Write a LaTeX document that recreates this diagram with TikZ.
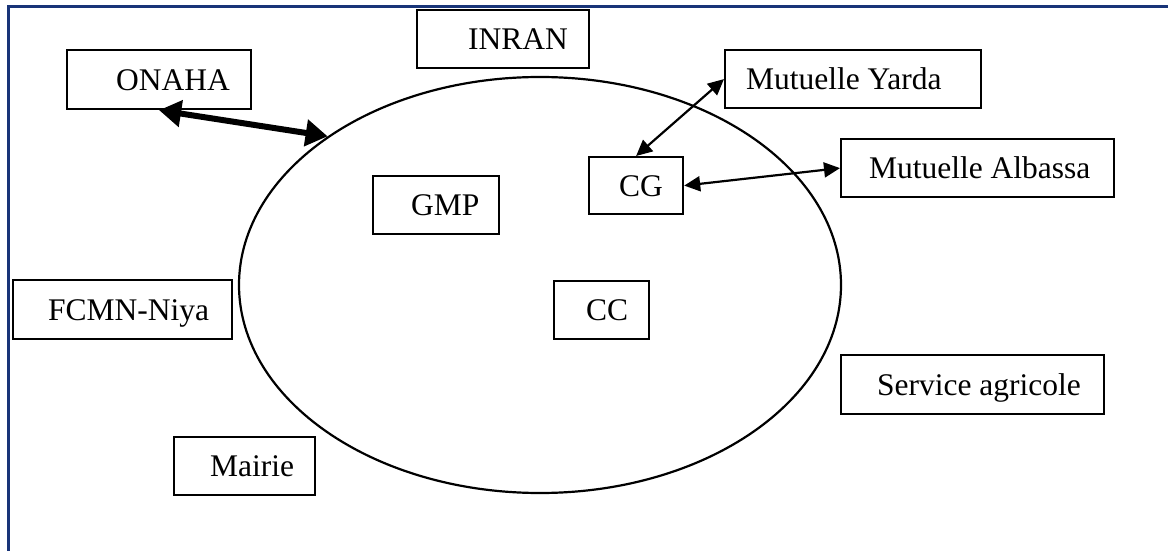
\documentclass[tikz,border=0pt]{standalone}
\usepackage{fontspec}
\setmainfont{Liberation Serif}
\usetikzlibrary{shapes.geometric,arrows.meta}
\definecolor{framecol}{RGB}{24,52,120}
\tikzset{
  box/.style={draw, line width=2.2pt, inner sep=0pt, anchor=north west,
    text height=21pt, text depth=0pt, font=\fontsize{31.5}{38}\selectfont},
  thinarrow/.style={line width=2.2pt, {Triangle[length=16pt,width=15pt]}-{Triangle[length=16pt,width=15pt]}},
  thickarrow/.style={line width=6pt, {Triangle[length=22pt,width=26pt]}-{Triangle[length=22pt,width=26pt]}},
}
\newcommand{\bxtext}[3]{\makebox[#1pt][l]{\hspace*{#2pt}#3}}
\begin{document}
\begin{tikzpicture}[x=1pt,y=-1pt]
\useasboundingbox (0,0) rectangle (1168,551);
\draw[framecol, line width=3pt] (8,560) -- (8,7) -- (1175,7);
\node[draw, ellipse, line width=2.2pt, minimum width=602pt, minimum height=416pt, inner sep=0pt] (zone) at (540,285) {};
\node[box, minimum height=59pt] (onaha) at (66,49) {\bxtext{184}{49}{ONAHA}};
\node[box, minimum height=58pt] (inran) at (416,9) {\bxtext{172}{51}{INRAN}};
\node[box, minimum height=58pt] (yarda) at (724,49) {\bxtext{256}{21}{Mutuelle Yarda}};
\node[box, minimum height=57pt] (cg) at (588,156) {\bxtext{94}{30}{CG}};
\node[box, minimum height=58pt] (albassa) at (840,138) {\bxtext{273}{28}{Mutuelle Albassa}};
\node[box, minimum height=58pt] (gmp) at (372,175) {\bxtext{126}{38}{GMP}};
\node[box, minimum height=59pt] (fcmn) at (12,279) {\bxtext{219}{35}{FCMN-Niya}};
\node[box, minimum height=58pt] (cc) at (553,280) {\bxtext{95}{32}{CC}};
\node[box, minimum height=59pt] (service) at (840,354) {\bxtext{263}{36}{Service agricole}};
\node[box, minimum height=58pt] (mairie) at (173,436) {\bxtext{141}{36}{Mairie}};
\draw[thickarrow] (onaha.south) -- (zone.145);
\draw[thinarrow] (cg.north) -- (yarda.west);
\draw[thinarrow] (cg.east) -- (albassa.west);
\end{tikzpicture}
\end{document}
